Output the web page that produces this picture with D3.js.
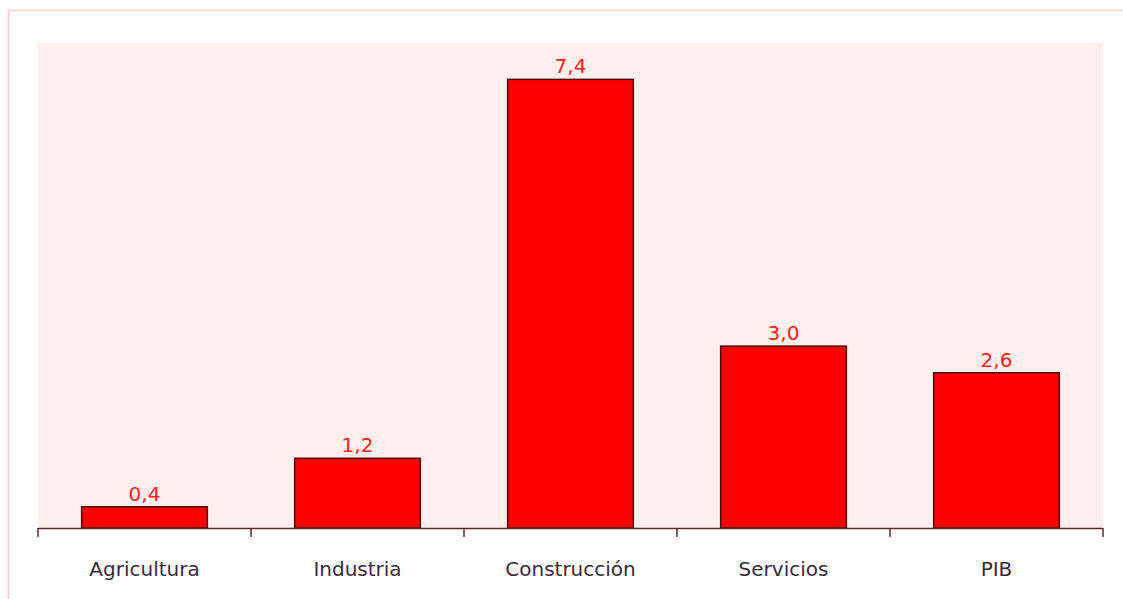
<!DOCTYPE html>
<html>
<head>
<meta charset="utf-8">
<script src="https://cdn.jsdelivr.net/npm/d3@7"></script>
<style>
  body { margin: 0; background: #fff; }
  svg { display: block; font-family: "DejaVu Sans", Verdana, sans-serif; }
</style>
</head>
<body>
<div id="chart"></div>
<script>
const categories = ["Agricultura", "Industria", "Construcción", "Servicios", "PIB"];
const values = [0.35, 1.15, 7.4, 3.0, 2.56];
const valueLabels = ["0,4", "1,2", "7,4", "3,0", "2,6"];
const yDomain = [0, 8];

const width = 1123, height = 599;
const margin = { top: 43, right: 20, bottom: 71, left: 38 };
const plotW = 1103 - margin.left;
const plotH = 528 - margin.top;

const svg = d3.select("#chart").append("svg")
  .attr("width", width)
  .attr("height", height);

// borde exterior
svg.append("path")
  .attr("d", "M8.5,599 V10.5 H1123")
  .attr("fill", "none")
  .attr("stroke", "#ffcccc")
  .attr("stroke-width", 1.5);

const g = svg.append("g")
  .attr("transform", `translate(${margin.left},${margin.top})`);

g.append("rect")
  .attr("width", plotW)
  .attr("height", plotH)
  .attr("fill", "#ffeeee");

const x = d3.scaleBand().domain(categories).range([0, plotW]).paddingInner(0.41).paddingOuter(0.205);
const y = d3.scaleLinear().domain(yDomain).range([plotH, 0]);

// Barras
g.selectAll("rect.bar")
  .data(categories)
  .enter().append("rect")
  .attr("class", "bar")
  .attr("x", d => x(d))
  .attr("y", (d, i) => y(values[i]))
  .attr("width", x.bandwidth())
  .attr("height", (d, i) => y(0) - y(values[i]))
  .attr("fill", "#ff0000")
  .attr("stroke", "#4a0a0a")
  .attr("stroke-width", 1.5);

// Etiquetas de valor
g.selectAll("text.val")
  .data(categories)
  .enter().append("text")
  .attr("class", "val")
  .attr("x", d => x(d) + x.bandwidth() / 2)
  .attr("y", (d, i) => y(values[i]) - 6)
  .attr("text-anchor", "middle")
  .attr("fill", "#ff2020")
  .attr("font-size", 20)
  .text((d, i) => valueLabels[i]);

// Eje X con marcas entre categorías
const axisG = g.append("g").attr("transform", `translate(0,${plotH})`);
const tickPos = d3.range(categories.length + 1).map(i => i * plotW / categories.length);
axisG.append("line")
  .attr("x1", 0).attr("x2", plotW)
  .attr("y1", 0.5).attr("y2", 0.5)
  .attr("stroke", "#5a2a2a").attr("stroke-width", 1.5);
axisG.selectAll("line.tick")
  .data(tickPos)
  .enter().append("line")
  .attr("class", "tick")
  .attr("x1", d => d).attr("x2", d => d)
  .attr("y1", 0).attr("y2", 9)
  .attr("stroke", "#5a2a2a").attr("stroke-width", 1.5);
axisG.selectAll("text.cat")
  .data(categories)
  .enter().append("text")
  .attr("class", "cat")
  .attr("x", d => x(d) + x.bandwidth() / 2)
  .attr("y", 48)
  .attr("text-anchor", "middle")
  .attr("fill", "#3a2a40")
  .attr("font-size", 20)
  .text(d => d);
</script>
</body>
</html>
